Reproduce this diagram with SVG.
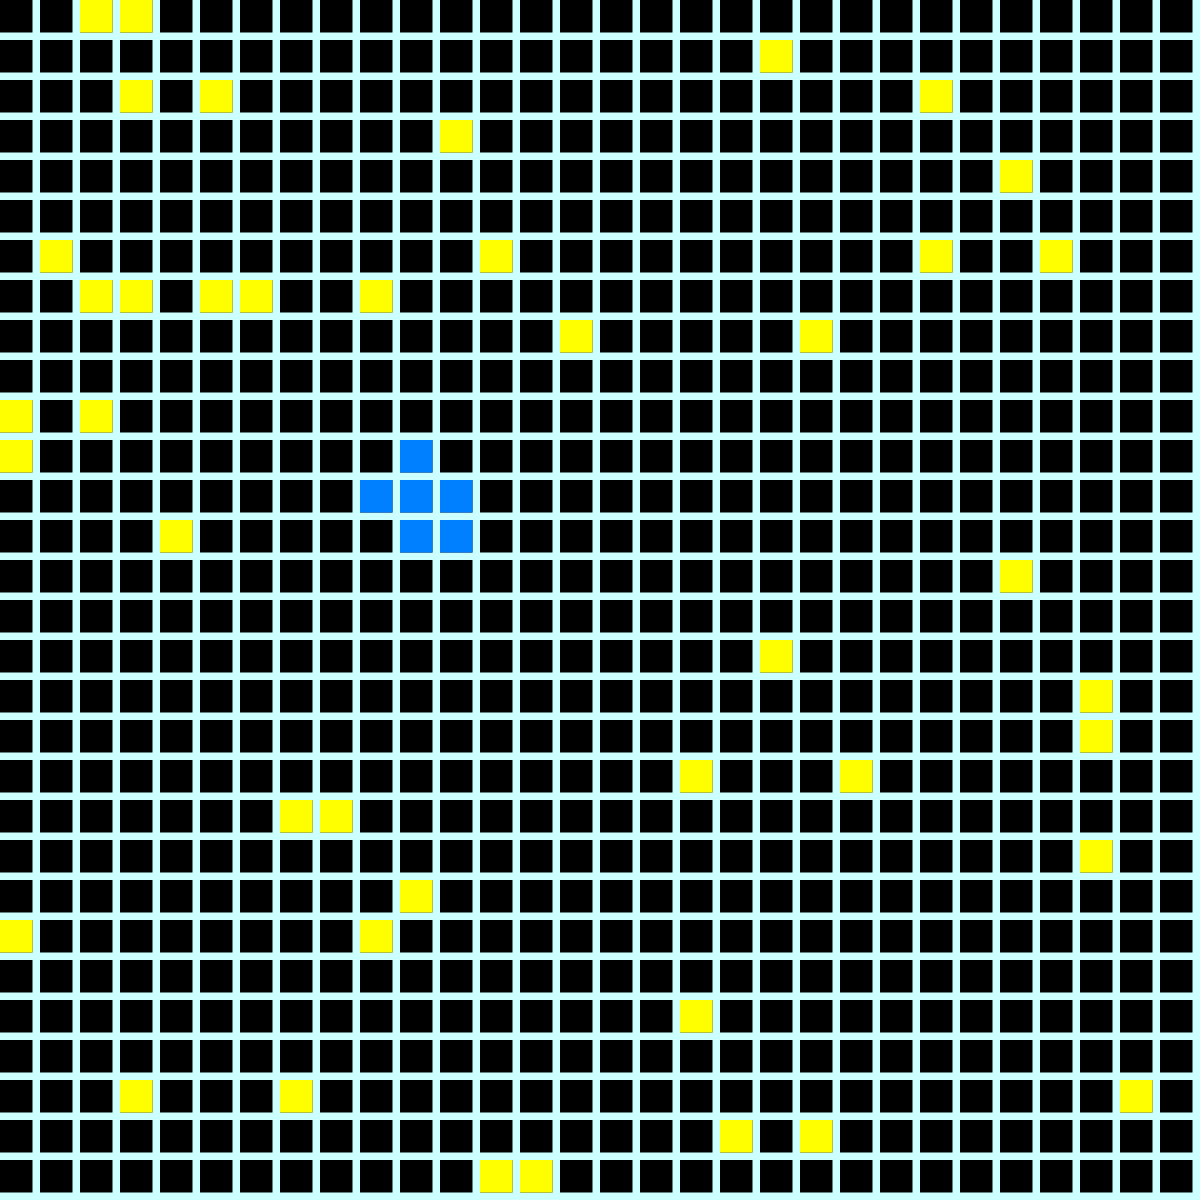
<svg xmlns="http://www.w3.org/2000/svg" width="1200" height="1200" viewBox="0 0 1200 1200">
<style>
.y{fill:#ffff00}
.b{fill:#0080ff}
</style>
<defs>
<pattern id="cell" x="0" y="0" width="40" height="40" patternUnits="userSpaceOnUse">
<rect x="0" y="0" width="40" height="40" fill="#ccffff"/>
<rect x="0" y="0" width="32.5" height="32.5" fill="#000000"/>
</pattern>
</defs>
<rect id="grid" x="0" y="0" width="1200" height="1200" fill="url(#cell)"/>
<g id="yellow" class="y">
<rect x="80" y="0" width="32.5" height="32.5"/>
<rect x="120" y="0" width="32.5" height="32.5"/>
<rect x="760" y="40" width="32.5" height="32.5"/>
<rect x="120" y="80" width="32.5" height="32.5"/>
<rect x="200" y="80" width="32.5" height="32.5"/>
<rect x="920" y="80" width="32.5" height="32.5"/>
<rect x="440" y="120" width="32.5" height="32.5"/>
<rect x="1000" y="160" width="32.5" height="32.5"/>
<rect x="40" y="240" width="32.5" height="32.5"/>
<rect x="480" y="240" width="32.5" height="32.5"/>
<rect x="920" y="240" width="32.5" height="32.5"/>
<rect x="1040" y="240" width="32.5" height="32.5"/>
<rect x="80" y="280" width="32.5" height="32.5"/>
<rect x="120" y="280" width="32.5" height="32.5"/>
<rect x="200" y="280" width="32.5" height="32.5"/>
<rect x="240" y="280" width="32.5" height="32.5"/>
<rect x="360" y="280" width="32.5" height="32.5"/>
<rect x="560" y="320" width="32.5" height="32.5"/>
<rect x="800" y="320" width="32.5" height="32.5"/>
<rect x="0" y="400" width="32.5" height="32.5"/>
<rect x="80" y="400" width="32.5" height="32.5"/>
<rect x="0" y="440" width="32.5" height="32.5"/>
<rect x="160" y="520" width="32.5" height="32.5"/>
<rect x="1000" y="560" width="32.5" height="32.5"/>
<rect x="760" y="640" width="32.5" height="32.5"/>
<rect x="1080" y="680" width="32.5" height="32.5"/>
<rect x="1080" y="720" width="32.5" height="32.5"/>
<rect x="680" y="760" width="32.5" height="32.5"/>
<rect x="840" y="760" width="32.5" height="32.5"/>
<rect x="280" y="800" width="32.5" height="32.5"/>
<rect x="320" y="800" width="32.5" height="32.5"/>
<rect x="1080" y="840" width="32.5" height="32.5"/>
<rect x="400" y="880" width="32.5" height="32.5"/>
<rect x="0" y="920" width="32.5" height="32.5"/>
<rect x="360" y="920" width="32.5" height="32.5"/>
<rect x="680" y="1000" width="32.5" height="32.5"/>
<rect x="120" y="1080" width="32.5" height="32.5"/>
<rect x="280" y="1080" width="32.5" height="32.5"/>
<rect x="1120" y="1080" width="32.5" height="32.5"/>
<rect x="720" y="1120" width="32.5" height="32.5"/>
<rect x="800" y="1120" width="32.5" height="32.5"/>
<rect x="480" y="1160" width="32.5" height="32.5"/>
<rect x="520" y="1160" width="32.5" height="32.5"/>
</g>
<g id="blue" class="b">
<rect x="400" y="440" width="32.5" height="32.5"/>
<rect x="360" y="480" width="32.5" height="32.5"/>
<rect x="400" y="480" width="32.5" height="32.5"/>
<rect x="440" y="480" width="32.5" height="32.5"/>
<rect x="400" y="520" width="32.5" height="32.5"/>
<rect x="440" y="520" width="32.5" height="32.5"/>
</g>
</svg>
